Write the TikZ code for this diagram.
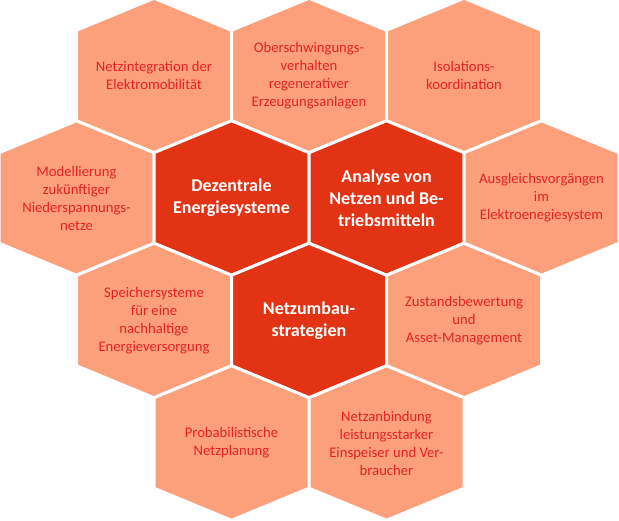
\documentclass[tikz,border=0pt]{standalone}
\usepackage{fontspec}
\setmainfont{Carlito}
\usetikzlibrary{positioning}
\definecolor{HexLight}{HTML}{FCA07C}
\definecolor{HexDark}{HTML}{E33315}
\definecolor{HexText}{HTML}{E42320}

\begin{document}
\begin{tikzpicture}[
    x=1pt,y=-1pt,
    hexlight/.style={fill=HexLight,draw=white,line width=3pt,line join=miter},
    hexdark/.style={fill=HexDark,draw=white,line width=3pt,line join=miter},
    topic/.style={align=center,inner sep=0pt,text=HexText,font=\fontsize{14.67}{18}\selectfont},
    core/.style={align=center,inner sep=0pt,text=white,font=\fontsize{18}{22}\selectfont\bfseries}
  ]
    \useasboundingbox (0,0) rectangle (619,520);
    \foreach \cx/\cy/\kind in {154/75.5/hexlight,309/75.5/hexlight,464/75.5/hexlight,
        76.5/198/hexlight,231.5/198/hexdark,386.5/198/hexdark,541.5/198/hexlight,
        154/320.5/hexlight,309/320.5/hexdark,464/320.5/hexlight,
        231.5/443/hexlight,386.5/443/hexlight}
      \path[style=\kind] (\cx,\cy) +(0,-77.25) -- +(77.5,-45.25) -- +(77.5,45.25) -- +(0,77.25)
        -- +(-77.5,45.25) -- +(-77.5,-45.25) -- cycle;
    \node[topic] (emob) at (154,75.5) {Netzintegration der\\Elektromobilität};
    \node[topic] (harm) at (309,75.5) {Oberschwingungs-\\verhalten\\regenerativer\\Erzeugungsanlagen};
    \node[topic] (iso) at (464,75.5) {Isolations-\\koordination};
    \node[topic] (nsnetz) at (76.5,198) {Modellierung\\zukünftiger\\Niederspannungs-\\netze};
    \node[core] (dez) at (231.5,198) {Dezentrale\\Energiesysteme};
    \node[core] (ana) at (386.5,198) {Analyse von\\Netzen und Be-\\triebsmitteln};
    \node[topic] (ausgl) at (541.5,198) {Ausgleichsvorgängen\\im\\Elektroenegiesystem};
    \node[topic] (speich) at (154,320.5) {Speichersysteme\\für eine\\nachhaltige\\Energieversorgung};
    \node[core] (umbau) at (309,320.5) {Netzumbau-\\strategien};
    \node[topic] (asset) at (464,320.5) {Zustandsbewertung\\und\\Asset-Management};
    \node[topic] (prob) at (231.5,443) {Probabilistische\\Netzplanung};
    \node[topic] (anbind) at (386.5,443) {Netzanbindung\\leistungsstarker\\Einspeiser und Ver-\\braucher};
  \end{tikzpicture}
\end{document}
